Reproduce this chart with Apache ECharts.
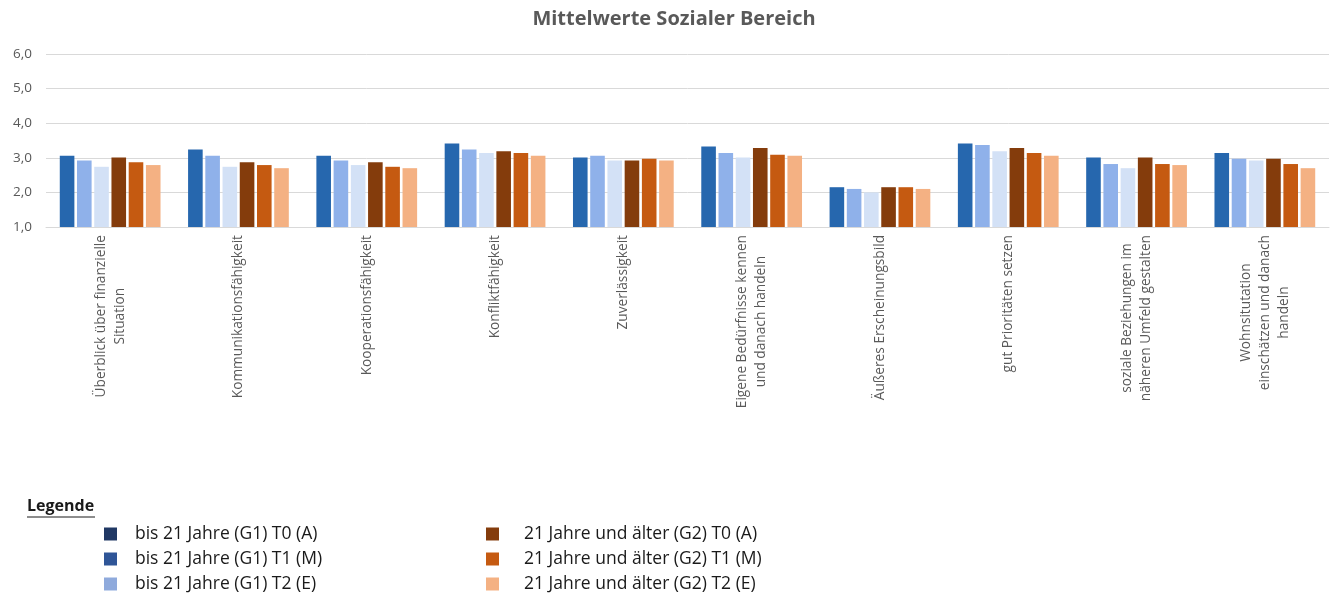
<!DOCTYPE html>
<html>
<head>
<meta charset="utf-8">
<script src="https://cdn.jsdelivr.net/npm/echarts@6/dist/echarts.min.js"></script>
<style>
html,body{margin:0;padding:0;background:#fff;}
#chart{width:1335px;height:593px;}
</style>
</head>
<body>
<div id="chart"></div>
<script>
const categories = [
  "Überblick über finanzielle\nSituation",
  "Kommunikationsfähigkeit",
  "Kooperationsfähigkeit",
  "Konfliktfähigkeit",
  "Zuverlässigkeit",
  "Eigene Bedürfnisse kennen\nund danach handeln",
  "Äußeres Erscheinungsbild",
  "gut Prioritäten setzen",
  "soziale Beziehungen im\nnäheren Umfeld gestalten",
  "Wohnsitutation\neinschätzen und danach\nhandeln"
];
const seriesNames = [
  "bis 21 Jahre (G1) T0 (A)",
  "bis 21 Jahre (G1) T1 (M)",
  "bis 21 Jahre (G1) T2 (E)",
  "21 Jahre und älter (G2) T0 (A)",
  "21 Jahre und älter (G2) T1 (M)",
  "21 Jahre und älter (G2) T2 (E)"
];
const g1T0 = [3.06, 3.24, 3.06, 3.41, 3.01, 3.33, 2.15, 3.41, 3.01, 3.14];
const g1T1 = [2.92, 3.06, 2.92, 3.24, 3.06, 3.14, 2.10, 3.37, 2.82, 2.97];
const g1T2 = [2.74, 2.74, 2.79, 3.14, 2.92, 3.01, 2.00, 3.19, 2.70, 2.92];
const g2T0 = [3.01, 2.87, 2.87, 3.19, 2.92, 3.28, 2.15, 3.28, 3.01, 2.97];
const g2T1 = [2.87, 2.79, 2.74, 3.14, 2.97, 3.09, 2.15, 3.14, 2.82, 2.82];
const g2T2 = [2.79, 2.70, 2.70, 3.06, 2.92, 3.06, 2.10, 3.06, 2.79, 2.70];
const yTicks = [1, 6, 1]; // min, max, interval

const seriesData = [g1T0, g1T1, g1T2, g2T0, g2T1, g2T2];
const barColors = ["#2667AE", "#8FB1EA", "#D3E1F6", "#843C0C", "#C55A11", "#F4B183"];
const legendColors = ["#203864", "#2F5597", "#8FAADC", "#843C0C", "#C55A11", "#F4B183"];

const chart = echarts.init(document.getElementById('chart'));
const legendText1 = {fontFamily: 'Open Sans', fontSize: 17.5, lineHeight: 15, color: '#1a1a1a', padding: [0, 0, 0, 13]};
const legendText2 = {fontFamily: 'Open Sans', fontSize: 17.5, lineHeight: 15, color: '#1a1a1a', padding: [0, 0, 0, 20]};
const option = {
  animation: false,
  grid: {left: 46, right: 6, top: 54, bottom: 366, containLabel: false},
  legend: [
    {
      orient: 'vertical', left: 99, top: 520, height: 90, itemWidth: 13, itemHeight: 13, itemGap: 7,
      icon: 'rect', textStyle: legendText1, selectedMode: false,
      data: seriesNames.slice(0, 3).map((n, i) => ({name: n, itemStyle: {color: legendColors[i]}}))
    },
    {
      orient: 'vertical', left: 481, top: 520, height: 90, itemWidth: 13, itemHeight: 13, itemGap: 7,
      icon: 'rect', textStyle: legendText2, selectedMode: false,
      data: seriesNames.slice(3).map((n, i) => ({name: n, itemStyle: {color: legendColors[i + 3]}}))
    }
  ],
  graphic: [
    {type: 'text', x: 674, y: 9, style: {text: 'Mittelwerte Sozialer Bereich', align: 'center', fontFamily: 'Open Sans', fontSize: 20, fontWeight: 'bold', fill: '#595959'}},
    {type: 'text', left: 27, top: 498, style: {text: 'Legende', fontFamily: 'Open Sans', fontSize: 16, fontWeight: 'bold', fill: '#1a1a1a'}},
    {type: 'line', shape: {x1: 27, y1: 517, x2: 95, y2: 517}, style: {stroke: '#1a1a1a', lineWidth: 1}}
  ],
  xAxis: {
    type: 'category',
    data: categories,
    axisLine: {lineStyle: {color: '#d9d9d9'}},
    axisTick: {show: false},
    axisLabel: {
      interval: 0, rotate: 90, margin: 8,
      fontFamily: 'Open Sans', fontSize: 13.7, color: '#595959',
      formatter: v => v.split('\n').map(l => '{c|' + l + '}').join('\n'),
      rich: {c: {align: 'center', fontFamily: 'Open Sans', fontSize: 13.7, color: '#595959', lineHeight: 19}}
    }
  },
  yAxis: {
    type: 'value', min: yTicks[0], max: yTicks[1], interval: yTicks[2],
    axisLine: {show: false}, axisTick: {show: false},
    splitLine: {lineStyle: {color: '#d9d9d9', width: 1}},
    axisLabel: {
      fontFamily: 'Open Sans', fontSize: 13.5, color: '#595959', margin: 14,
      formatter: v => v.toFixed(1).replace('.', ',')
    }
  },
  series: seriesNames.map((n, i) => ({
    name: n, type: 'bar', data: seriesData[i],
    barWidth: 14.6, barGap: '18%',
    itemStyle: {color: barColors[i]}
  }))
};
chart.setOption(option);
</script>
</body>
</html>
